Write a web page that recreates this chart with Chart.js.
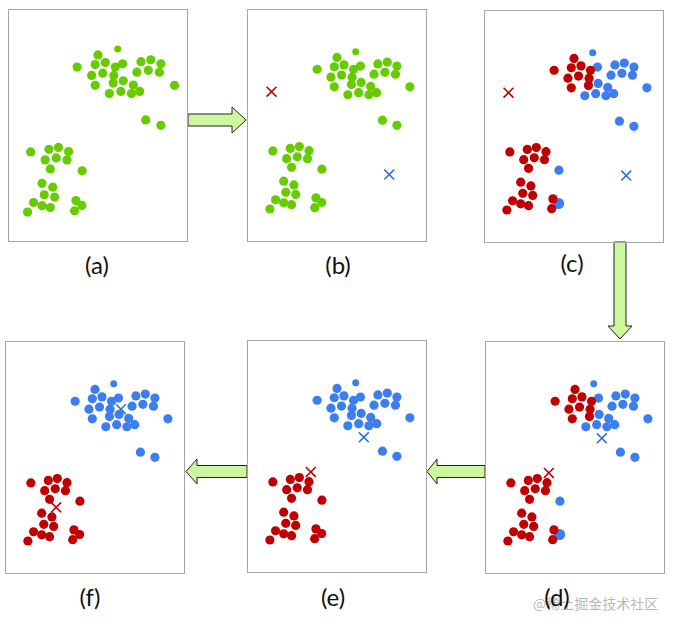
<!DOCTYPE html>
<html>
<head>
<meta charset="utf-8">
<script src="https://cdn.jsdelivr.net/npm/chart.js@4"></script>
<style>
  body { margin: 0; background: #fff; width: 680px; height: 629px; position: relative; overflow: hidden; }
  .panel { position: absolute; width: 180px; height: 233px; box-sizing: border-box; border: 1px solid #a6a6a6; }
  .panel canvas { position: absolute; left: 0; top: 0; }
  .lbl { position: absolute; width: 80px; text-align: center; font-family: Lato, "Open Sans", sans-serif; font-size: 24px; color: #111; }
  #wm { position: absolute; left: 533px; top: 593px; font-family: "Noto Sans CJK SC", sans-serif; font-size: 14px; color: rgba(120,120,120,0.55); }
  svg { position: absolute; left: 0; top: 0; }
</style>
</head>
<body>
<svg width="680" height="629">
  <g fill="#ccf79e" stroke="#222" stroke-width="1">
    <polygon points="188,114 232,114 232,107 246,120 232,133 232,126 188,126"/>
    <polygon points="614,242 626,242 626,326 632,326 620,339 608,326 614,326"/>
    <polygon points="485,465.5 437,465.5 437,459 427,471.5 437,484 437,477.5 485,477.5"/>
    <polygon points="247,465.5 197,465.5 197,459 186,471.5 197,484 197,477.5 247,477.5"/>
  </g>
</svg>
<div id="wm">@稀土掘金技术社区</div>
<script>
// point positions inside a panel (panel is 180 x 233, y measured downwards)
const xs = [110.7, 90, 68, 87, 97.7, 108.3, 116, 135.3, 145.7, 156.3, 83.3, 95, 106.7, 131, 143, 154.7,
  87, 106, 116.7, 127.3, 170.7, 102, 114, 125.3, 134, 140.3, 156.3,
  19, 38.3, 48.3, 59, 34.3, 46, 57.3, 39.7, 73.3, 31, 42.3, 33.3, 44.3, 22, 31, 39.7, 15.7, 66.7, 73, 65.3];
const ys = [36.7, 43, 55.7, 53, 51, 55.7, 52.3, 50, 48, 52.3, 64.3, 62, 64.3, 61, 59, 61,
  74.7, 72.3, 70, 74.3, 74.7, 83.3, 81, 83.3, 81, 110.7, 116.3,
  144, 141.3, 139.3, 143.7, 152.3, 150.3, 152.3, 161.7, 163.7, 176.7, 180.7, 188.7, 191, 196.7, 200, 202, 206.7, 194.7, 199.7, 205.3];

// cluster of each point (0 = red, 1 = blue), after first and second assignment step
const assignFirst = [1, 0, 0, 0, 0, 0, 1, 1, 1, 1, 0, 0, 0, 1, 1, 1, 0, 0, 1, 1, 1, 1, 1, 1, 1, 1, 1,
  0, 0, 0, 0, 0, 0, 0, 0, 1, 0, 0, 0, 0, 0, 0, 0, 0, 0, 1, 0];
const assignSecond = [1, 1, 1, 1, 1, 1, 1, 1, 1, 1, 1, 1, 1, 1, 1, 1, 1, 1, 1, 1, 1, 1, 1, 1, 1, 1, 1,
  0, 0, 0, 0, 0, 0, 0, 0, 0, 0, 0, 0, 0, 0, 0, 0, 0, 0, 0, 0];
const noAssign = xs.map(() => -1);

// centroids [red, blue] per panel
const centB = [[17.5, 80], [147.8, 169.5]];
const centD = [[61, 133.2], [119.7, 95.8]];
const centF = [[47, 170.3], [118.7, 64.3]];

const panels = [
  { id: 'a', left: 8, top: 9, assign: noAssign, cent: null, big: false, lx: 57, ly: 250 },
  { id: 'b', left: 247, top: 9, assign: noAssign, cent: centB, big: false, lx: 298, ly: 250 },
  { id: 'c', left: 484, top: 10, assign: assignFirst, cent: centB, big: true, lx: 532, ly: 248 },
  { id: 'd', left: 485, top: 341, assign: assignFirst, cent: centD, big: true, lx: 517, ly: 582 },
  { id: 'e', left: 247, top: 340, assign: assignSecond, cent: centD, big: false, lx: 293, ly: 582 },
  { id: 'f', left: 5, top: 341, assign: assignSecond, cent: centF, big: false, lx: 50, ly: 582 }
];

const colors = { '-1': '#66cc00', '0': '#c00000', '1': '#3c7df0' };
const crossColors = ['#c00000', '#2e74c8'];

panels.forEach(p => {
  const div = document.createElement('div');
  div.className = 'panel';
  div.style.left = p.left + 'px';
  div.style.top = p.top + 'px';
  const cv = document.createElement('canvas');
  cv.width = 178; cv.height = 231;
  div.appendChild(cv);
  document.body.appendChild(div);

  const lbl = document.createElement('div');
  lbl.className = 'lbl';
  lbl.style.left = p.lx + 'px';
  lbl.style.top = p.ly + 'px';
  lbl.textContent = '(' + p.id + ')';
  document.body.appendChild(lbl);

  const datasets = [];
  [-1, 0, 1].forEach(c => {
    const idx = xs.map((_, i) => i).filter(i => p.assign[i] === c);
    if (!idx.length) return;
    datasets.push({
      data: idx.map(i => ({ x: xs[i], y: ys[i] })),
      backgroundColor: colors[c],
      borderWidth: 0,
      pointRadius: idx.map(i => i === 0 ? 3.5 : (p.big && i === 45 ? 5.5 : 4.6))
    });
  });
  if (p.cent) {
    p.cent.forEach((c, k) => {
      datasets.push({
        data: [{ x: c[0], y: c[1] }],
        pointStyle: 'crossRot',
        pointRadius: 7,
        borderColor: crossColors[k],
        borderWidth: 1.6
      });
    });
  }

  new Chart(cv, {
    type: 'scatter',
    data: { datasets: datasets },
    options: {
      responsive: false,
      animation: false,
      layout: { padding: 0 },
      plugins: { legend: { display: false }, tooltip: { enabled: false } },
      scales: {
        x: { type: 'linear', display: false, min: 1, max: 179 },
        y: { display: false, min: 1, max: 232, reverse: true }
      }
    }
  });
});
</script>
</body>
</html>
